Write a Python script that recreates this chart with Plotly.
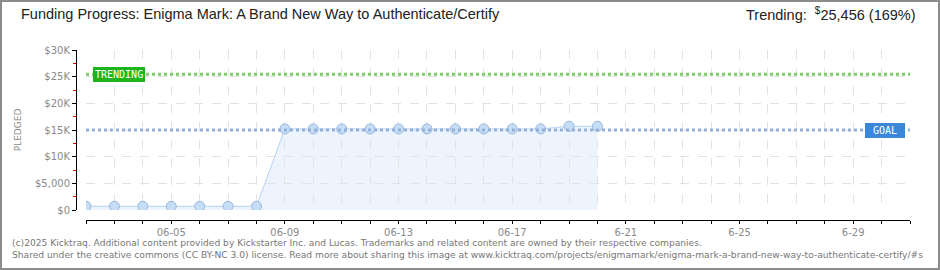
import plotly.graph_objects as go
import pandas as pd

# ---- data ----
dates = ["2025-06-02", "2025-06-03", "2025-06-04", "2025-06-05", "2025-06-06", "2025-06-07",
         "2025-06-08", "2025-06-09", "2025-06-10", "2025-06-11", "2025-06-12", "2025-06-13",
         "2025-06-14", "2025-06-15", "2025-06-16", "2025-06-17", "2025-06-18", "2025-06-19",
         "2025-06-20"]
pledged = [700, 700, 700, 700, 700, 700, 700, 15200, 15200, 15200, 15200, 15200,
           15200, 15200, 15200, 15200, 15200, 15700, 15700]
goal = 15000
trending = 25456
trending_pct = 169

tick_days = [d.strftime("%Y-%m-%d") for d in pd.date_range("2025-06-02", "2025-07-01")]
tick_labels_map = {"2025-06-05": "06-05", "2025-06-09": "06-09", "2025-06-13": "06-13",
                   "2025-06-17": "06-17", "2025-06-21": "6-21", "2025-06-25": "6-25",
                   "2025-06-29": "6-29"}
x_ticktext = [tick_labels_map.get(d, " ") for d in tick_days]
y_tickvals = [0, 5000, 10000, 15000, 20000, 25000, 30000]
y_ticktext = ["$0", "$5,000", "$10K", "$15K", "$20K", "$25K", "$30K"]

title_text = "Funding Progress: Enigma Mark: A Brand New Way to Authenticate/Certify"
footer1 = ("(c)2025 Kicktraq. Additional content provided by Kickstarter Inc. and Lucas. "
           "Trademarks and related content are owned by their respective companies.")
footer2 = ("Shared under the creative commons (CC BY-NC 3.0) license. Read more about sharing "
           "this image at www.kicktraq.com/projects/enigmamark/enigma-mark-a-brand-new-way-to-authenticate-certify/#s")

W, H = 940, 270
ML, MR, MT, MB = 76, 30, 50, 50
PW, PH = W - ML - MR, H - MT - MB

tick_font = dict(family="DejaVu Sans", size=10, color="#8a8a8a")

fig = go.Figure()
fig.add_trace(go.Scatter(
    x=dates, y=pledged, mode="lines+markers", fill="tozeroy",
    fillcolor="rgba(214,230,250,0.45)",
    line=dict(color="#b8d3f2", width=1),
    marker=dict(size=10, color="#c6ddf7", line=dict(color="#98b6da", width=1)),
    hoverinfo="skip", showlegend=False,
))

fig.update_layout(
    width=W, height=H,
    margin=dict(l=ML, r=MR, t=MT, b=MB),
    paper_bgcolor="white", plot_bgcolor="white",
    xaxis=dict(
        type="date", range=["2025-06-02", "2025-07-01"],
        domain=[10 / PW, 1], anchor="free", position=0,
        tickvals=tick_days, ticktext=x_ticktext,
        ticks="outside", ticklen=3, tickcolor="black", tickwidth=1,
        showline=True, linecolor="black", linewidth=1,
        showgrid=True, gridcolor="#e2e2e2", griddash="dash", gridwidth=1,
        tickfont=tick_font, zeroline=False,
    ),
    yaxis=dict(
        range=[0, 30000], domain=[10 / PH, 1], anchor="free", position=0,
        tickvals=y_tickvals, ticktext=y_ticktext,
        ticks="outside", ticklen=4, tickcolor="black", tickwidth=1,
        minor=dict(dtick=2500, tick0=0, ticks="outside", ticklen=3, tickcolor="#e00000",
                   showgrid=False),
        showline=True, linecolor="black", linewidth=1,
        showgrid=True, gridcolor="#e2e2e2", griddash="dash", gridwidth=1,
        tickfont=tick_font, zeroline=False,
        title=dict(text="PLEDGED", font=dict(family="DejaVu Sans", size=9, color="#8a8a8a"),
                   standoff=10),
    ),
)

# goal & trending lines
fig.add_shape(type="line", xref="x domain", yref="y", x0=0, x1=1, y0=goal, y1=goal,
              line=dict(color="#93b1d8", width=3, dash="dot"), layer="above")
fig.add_shape(type="line", xref="x domain", yref="y", x0=0, x1=1, y0=trending, y1=trending,
              line=dict(color="#7dcd6b", width=3, dash="dot"), layer="above")

label_font = dict(family="DejaVu Sans Mono", size=10, color="white")
fig.add_annotation(xref="x domain", yref="y", x=0.008, y=trending, xanchor="left", yanchor="middle",
                   text="TRENDING", showarrow=False, font=label_font,
                   bgcolor="#1db51d", borderpad=1, bordercolor="#1db51d", borderwidth=1)
fig.add_annotation(xref="x domain", yref="y", x=0.994, y=goal, xanchor="right", yanchor="middle",
                   text=" GOAL ", showarrow=False, font=label_font,
                   bgcolor="#3c88d8", borderpad=1, bordercolor="#3c88d8", borderwidth=1)

# titles
fig.add_annotation(xref="paper", yref="paper", x=-(ML - 19) / PW, y=1 + (MT - 14) / PH,
                   xanchor="left", yanchor="middle", showarrow=False, text=title_text,
                   font=dict(family="Liberation Sans", size=14.5, color="#222"))
fig.add_annotation(xref="paper", yref="paper", x=1 + (MR - 22) / PW, y=1 + (MT - 14) / PH,
                   xanchor="right", yanchor="middle", showarrow=False,
                   text=f"Trending:  <sup>$</sup>{trending:,} ({trending_pct}%)",
                   font=dict(family="Liberation Sans", size=14.5, color="#222"))

# footer
foot_font = dict(family="DejaVu Sans", size=9.15, color="#777")
fig.add_annotation(xref="paper", yref="paper", x=-(ML - 10) / PW, y=-(243 - MT - PH) / PH,
                   xanchor="left", yanchor="middle", showarrow=False, text=footer1, font=foot_font)
fig.add_annotation(xref="paper", yref="paper", x=-(ML - 10) / PW, y=-(255 - MT - PH) / PH,
                   xanchor="left", yanchor="middle", showarrow=False, text=footer2, font=foot_font)

# outer border
fig.add_shape(type="rect", xref="paper", yref="paper",
              x0=-(ML - 1) / PW, x1=1 + (MR - 1) / PW, y0=-(MB - 1) / PH, y1=1 + (MT - 1) / PH,
              line=dict(color="#8c8c8c", width=2), layer="above")

fig.write_html("out.html")
